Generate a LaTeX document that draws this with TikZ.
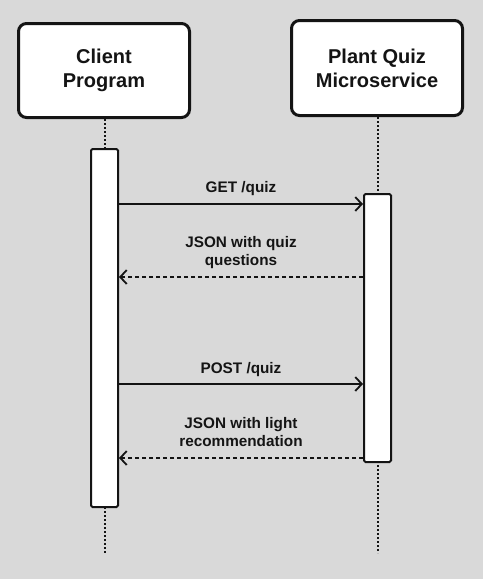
\documentclass[tikz,border=0pt]{standalone}
\usepackage{fontspec}
\setmainfont{Liberation Sans}
\usetikzlibrary{arrows.meta}
\definecolor{bg}{RGB}{217,217,217}
\definecolor{ink}{RGB}{20,20,20}
\begin{document}
\begin{tikzpicture}[x=1pt,y=-1pt,
  actor/.style={draw=ink,fill=white,line width=3pt,rounded corners=8pt,align=center,
    font=\fontsize{20}{24}\selectfont\bfseries,text=ink},
  actbox/.style={draw=ink,fill=white,line width=2pt,rounded corners=1.5pt,minimum width=27pt,inner sep=0pt},
  life/.style={draw=ink,line width=2pt,dash pattern=on 2pt off 2pt},
  msg/.style={draw=ink,line width=2pt,-{Straight Barb[length=6.5pt,width=14pt,line width=1.8pt]}},
  reply/.style={msg,dash pattern=on 4pt off 3pt},
  lbl/.style={align=center,font=\fontsize{15.3}{18.5}\selectfont\bfseries,text=ink,inner sep=0pt}]
\useasboundingbox (0,0) rectangle (483,579);
\fill[bg] (0,0) rectangle (483,579);
% actors
\node[actor,minimum width=171pt,minimum height=94pt] (client) at (104,70.5) {Client\\Program};
\node[actor,minimum width=171pt,minimum height=95pt] (plant) at (377,68) {Plant Quiz\\Microservice};
% lifelines
\coordinate (cend) at (105,553);
\coordinate (pend) at (378,553);
\draw[life] (client.south -| cend) -- (cend);
\draw[life] (plant.south -| pend) -- (pend);
% activations
\node[actbox,minimum height=358pt] (act1) at (104.5,328) {};
\node[actbox,minimum height=268pt] (act2) at (377.5,328) {};
% message rows
\coordinate (y1) at (0,204);
\coordinate (y2) at (0,277);
\coordinate (y3) at (0,384);
\coordinate (y4) at (0,458);
\draw[msg] (act1.east |- y1) -- (act2.west |- y1);
\draw[reply] (act2.west |- y2) -- (act1.east |- y2);
\draw[msg] (act1.east |- y3) -- (act2.west |- y3);
\draw[reply] (act2.west |- y4) -- (act1.east |- y4);
% labels
\node[lbl] (l1) at (241,188.5) {GET /quiz};
\node[lbl] (l2) at (241,252.5) {JSON with quiz\\questions};
\node[lbl] (l3) at (241,369.5) {POST /quiz};
\node[lbl] (l4) at (241,432) {JSON with light\\recommendation};
\end{tikzpicture}
\end{document}
